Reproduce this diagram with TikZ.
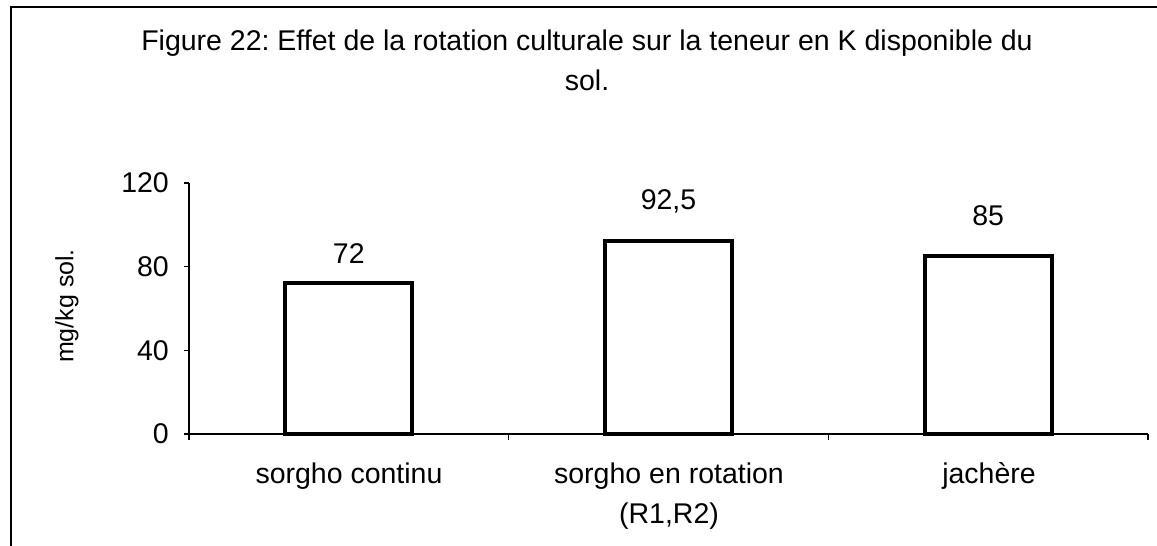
\documentclass[tikz,border=0pt]{standalone}
\usepackage{fontspec}
\setmainfont{Liberation Sans}
\usetikzlibrary{positioning}
\frenchspacing

\tikzset{
	barre/.style={draw=black, line width=4pt, fill=white},
	axe/.style={draw=black, line width=1.3pt},
	texte/.style={inner sep=0pt, font=\fontsize{28.5}{40}\selectfont}
}

\begin{document}
\begin{tikzpicture}[x=1pt,y=-1pt]
		\useasboundingbox (0,0) rectangle (1157,546);
		% cadre
		\draw[line width=1.5pt] (11,546) -- (11,7) -- (1157,7);
		
		% titre
		\node[texte, anchor=base] (titre) at (587,50) {Figure 22: Effet de la rotation culturale sur la teneur en K disponible du};
		\node[texte, anchor=base] (titresuite) at (587,90) {sol.};
		\node[inner sep=0pt, rotate=90, font=\fontsize{25}{30}\selectfont] (ytitre) at (67,306) {mg/kg sol.};
		
		% barres
		\foreach \i/\v/\lab/\ly in {1/72/72/263, 2/92.5/{92,5}/209, 3/85/85/225}{
			\draw[barre] (189+319.67*\i-319.67*0.5-63.5, 434) rectangle (189+319.67*\i-319.67*0.5+63.5, 434-2.0917*\v);
			\node[texte, anchor=base] (val\i) at (189+319.67*\i-319.67*0.5, \ly) {\lab};
		}
		
		% axes
		\draw[axe] (189,183) -- (189,434) -- (1148,434);
		\foreach \v in {0,40,80,120}{
			\draw[axe] (184,434-2.0917*\v) -- (189,434-2.0917*\v);
			\node[texte, anchor=east] (graduation\v) at (169,434-2.0917*\v) {\v};
		}
		\foreach \i in {0,1,2,3}{
			\draw[axe] (189+319.67*\i,434) -- (189+319.67*\i,440);
		}
		
		% categories
		\node[texte, anchor=base] (cat1) at (349,483) {sorgho continu};
		\node[texte, anchor=base] (cat2) at (669,483) {sorgho en rotation};
		\node[texte, anchor=base] (cat2b) at (669,523) {(R1,R2)};
		\node[texte, anchor=base] (cat3) at (989,483) {jachère};
	\end{tikzpicture}
\end{document}
